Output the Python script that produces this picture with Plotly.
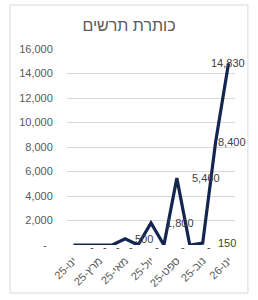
import plotly.graph_objects as go

# ---- data ----
months = ["ינו-25", "פבר-25", "מרץ-25", "אפר-25", "מאי-25", "יונ-25", "יול-25",
          "אוג-25", "ספט-25", "אוק-25", "נוב-25", "דצמ-25", "ינו-26"]
values = [0, 0, 0, 0, 500, 0, 1800, 0, 5460, 0, 150, 8400, 14830]
y_ticks = [0, 2000, 4000, 6000, 8000, 10000, 12000, 14000, 16000]
title_text = "כותרת תרשים"

# ---- styling ----
LINE = "#14264f"
GRAY = "#595959"
LBL = "#404040"
FONT = "Liberation Sans, Arial, sans-serif"

x_idx = list(range(len(months)))

fig = go.Figure()
fig.add_trace(go.Scatter(
    x=x_idx, y=values, mode="lines",
    line=dict(color=LINE, width=3.2),
    hoverinfo="skip", showlegend=False,
))

# data labels
def fmt(v):
    return "-" if v == 0 else f"{v:,}"

label_style = {  # index -> (xanchor, xshift, yshift)
    len(values) - 1: ("center", -1, 0),
    len(values) - 2: ("left", 0, 0),
    4: ("left", 8, 0),
}
for i, v in enumerate(values):
    xa, xs, ys = label_style.get(i, ("left", 13 if v else 15, 0 if v else -2))
    fig.add_annotation(
        x=x_idx[i], y=v, text=fmt(v), showarrow=False,
        xanchor=xa, yanchor="middle", xshift=xs, yshift=ys,
        font=dict(family=FONT, size=11, color=LBL),
    )

tick_text = [("-\u00a0\u00a0" if t == 0 else f"{t:,}") for t in y_ticks]

fig.update_layout(
    width=258, height=300,
    margin=dict(l=67, r=23, t=49, b=55),
    paper_bgcolor="white", plot_bgcolor="white",
    title=dict(text=title_text, x=0.5, xanchor="center", y=0.915, yanchor="middle",
               font=dict(family=FONT, size=16, color=GRAY)),
    font=dict(family=FONT, size=11, color=GRAY),
    xaxis=dict(
        range=[-0.5, len(months) - 0.5],
        tickmode="array", tickvals=x_idx[::2], ticktext=months[::2],
        tickangle=-45, showgrid=False, zeroline=False, showline=False,
        ticks="outside", ticklen=4, tickcolor="rgba(0,0,0,0)",
        tickfont=dict(family=FONT, size=11, color=GRAY),
        fixedrange=True,
    ),
    yaxis=dict(
        range=[0, 16000], tickmode="array", tickvals=y_ticks, ticktext=tick_text,
        showgrid=True, gridcolor="#d9d9d9", gridwidth=1, zeroline=False, showline=False,
        ticks="outside", ticklen=11, tickcolor="rgba(0,0,0,0)",
        tickfont=dict(family=FONT, size=11, color=GRAY),
        fixedrange=True,
    ),
    shapes=[dict(type="rect", xref="paper", yref="paper",
                 x0=-0.339, x1=1.077, y0=-0.245, y1=1.2245,
                 line=dict(color="#d9d9d9", width=1), fillcolor="rgba(0,0,0,0)",
                 layer="below")],
)

fig.write_html("out.html", config={"displayModeBar": False})
